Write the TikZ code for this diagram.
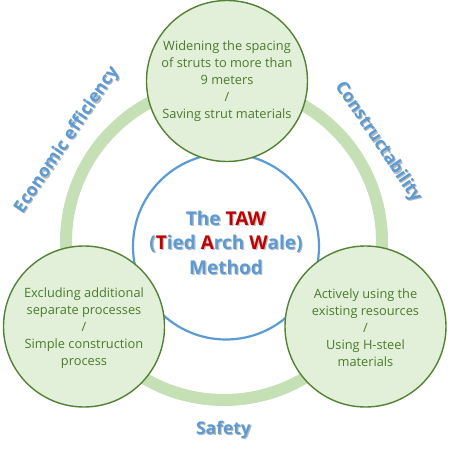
\documentclass[tikz,border=0pt]{standalone}
\usepackage{fontspec}
\setmainfont{Open Sans}
\definecolor{ringgreen}{HTML}{C5E0B4}
\definecolor{fillgreen}{HTML}{E2F0D9}
\definecolor{edgegreen}{HTML}{548235}
\definecolor{txtgreen}{HTML}{4A7A2C}
\definecolor{mblue}{HTML}{5B9BD5}
\definecolor{mred}{HTML}{C00000}
\tikzset{
  ring/.style={draw=ringgreen, line width=12pt},
  hub/.style={circle, draw=mblue, line width=2.2pt, fill=white, minimum size=186pt, inner sep=0pt},
  pill/.style={circle, draw=edgegreen, line width=1.4pt, fill=fillgreen, minimum size=161pt, inner sep=0pt},
  ptext/.style={text=txtgreen, align=center, font=\fontsize{12.8}{17}\selectfont, inner sep=0pt},
  lbl/.style={text=mblue, font=\bfseries\fontsize{17.5}{20}\selectfont, inner sep=0pt},
  lblsh/.style={text=black!28, font=\bfseries\fontsize{17.5}{20}\selectfont, inner sep=0pt},
  ctext/.style={align=center, font=\bfseries\fontsize{19}{24.5}\selectfont, inner sep=0pt},
}
\begin{document}
\begin{tikzpicture}[x=1pt, y=-1pt]
\useasboundingbox (0,0) rectangle (450,449);
% outer ring
\draw[ring] (224,242) circle (158);
% central hub
\node[hub] (hub) at (226,246.5) {};
\node[ctext, text=black!25] (hubsh) at (227.1,243.6) {The TAW\\(Tied Arch Wale)\\Method};
\node[ctext, text=mblue] (hubtxt) at (226,242.5) {The {\color{mred}TAW}\\({\color{mred}T}ied {\color{mred}A}rch {\color{mred}W}ale)\\Method};
% three circles
\node[pill] (top) at (227,81) {};
\node[pill] (left) at (84,326.5) {};
\node[pill] (right) at (365.5,326.5) {};
\node[ptext] (toptxt) at (top.center) {Widening the spacing\\of struts to more than\\9 meters\\/\\Saving strut materials};
\node[ptext] (lefttxt) at ([yshift=-1.5pt]left.center) {Excluding additional\\separate processes\\/\\Simple construction\\process};
\node[ptext] (righttxt) at ([yshift=-1.5pt]right.center) {Actively using the\\existing resources\\/\\Using H-steel\\materials};
% labels with shadow
\node[lblsh, rotate=56] (econsh) at (68.1,141.1) {Economic efficiency};
\node[lbl, rotate=56] (econ) at (67,140) {Economic efficiency};
\node[lblsh, rotate=-56] (consh) at (379.1,143.1) {Constructability};
\node[lbl, rotate=-56] (cons) at (378,142) {Constructability};
\node[lblsh] (safsh) at (224.6,431.1) {Safety};
\node[lbl] (saf) at (223.5,430) {Safety};
\end{tikzpicture}
\end{document}
